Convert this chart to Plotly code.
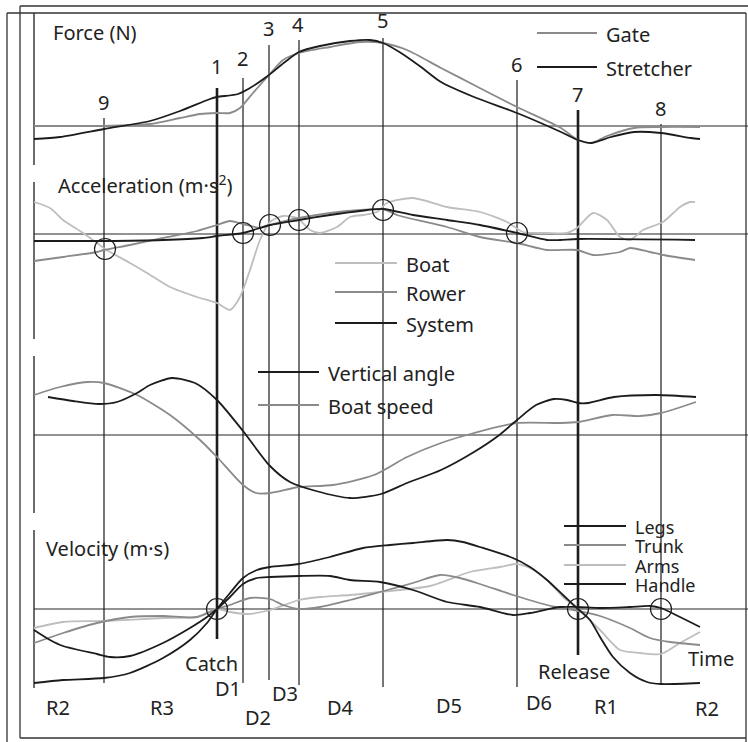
import plotly.graph_objects as go

# ---------------- data (stroke phase on x, signal level on y; screen-like units) -------------
# Force panel
gate_x = [34, 104, 150, 180, 200, 217, 230, 240, 253, 269, 283, 299, 330, 360, 383, 407, 441, 474, 517, 561, 578, 591, 607, 634, 661, 700]
gate_y = [126, 126, 124, 118, 114, 113, 113, 108, 93, 75, 60, 53, 47, 42, 43, 50, 68, 85, 107, 128, 140, 143, 136, 128, 127, 127]
stretch_x = [34, 60, 104, 150, 180, 210, 217, 238, 250, 269, 285, 299, 320, 350, 370, 383, 401, 421, 441, 474, 517, 561, 578, 591, 611, 634, 661, 691, 700]
stretch_y = [139, 137, 129, 121, 111, 99, 97, 94, 88, 75, 62, 52, 46, 41, 40, 43, 53, 67, 82, 97, 113, 132, 140, 143, 137, 132, 133, 138, 139]

# Acceleration panel
boat_x = [34, 50, 63, 83, 97, 105, 130, 147, 170, 197, 217, 230, 240, 250, 260, 270, 283, 297, 310, 320, 337, 350, 363, 377, 387, 413, 447, 480, 507, 523, 547, 567, 577, 593, 607, 620, 630, 643, 663, 680, 690, 695]
boat_y = [202, 208, 220, 233, 243, 249, 263, 273, 287, 297, 303, 310, 297, 270, 240, 222, 216, 218, 230, 233, 227, 217, 215, 212, 203, 198, 207, 212, 222, 232, 233, 233, 228, 213, 220, 237, 240, 230, 222, 207, 202, 202]
rower_x = [34, 63, 97, 104, 130, 163, 197, 217, 230, 243, 260, 270, 299, 330, 360, 383, 397, 447, 480, 517, 547, 577, 593, 620, 630, 650, 663, 695]
rower_y = [261, 257, 252, 250, 245, 238, 231, 225, 221, 224, 228, 225, 218, 213, 210, 209, 215, 227, 237, 243, 250, 250, 255, 252, 248, 252, 255, 260]
system_x = [34, 104, 163, 203, 217, 243, 270, 299, 330, 360, 383, 413, 447, 480, 517, 547, 560, 578, 695]
system_y = [241, 241, 240, 238, 236, 233, 225, 220, 215, 211, 209, 215, 220, 225, 233, 240, 240, 239, 240]

# Vertical angle / boat speed panel
vang_x = [48, 73, 99, 117, 137, 150, 172, 195, 217, 243, 270, 290, 316, 350, 381, 407, 441, 474, 498, 517, 536, 554, 567, 578, 588, 614, 657, 696]
vang_y = [397, 401, 404, 402, 393, 385, 378, 383, 400, 431, 466, 482, 491, 498, 494, 483, 470, 452, 436, 420, 405, 399, 400, 403, 403, 397, 395, 397]
bspeed_x = [34, 60, 87, 104, 137, 170, 200, 217, 243, 256, 270, 299, 333, 374, 407, 441, 474, 517, 561, 578, 612, 640, 661, 696]
bspeed_y = [395, 387, 382, 383, 395, 415, 440, 457, 485, 493, 493, 487, 485, 475, 457, 443, 433, 423, 423, 422, 415, 416, 413, 402]

# Velocity panel
legs_x = [34, 50, 63, 97, 110, 130, 163, 190, 207, 217, 230, 243, 257, 270, 299, 330, 350, 380, 413, 447, 480, 513, 530, 560, 578, 600, 630, 650, 661, 680, 700]
legs_y = [630, 640, 646, 654, 657, 656, 643, 628, 617, 609, 597, 584, 578, 577, 576, 576, 580, 582, 590, 602, 607, 615, 613, 607, 607, 608, 607, 606, 608, 617, 627]
trunk_x = [34, 63, 97, 130, 163, 197, 217, 230, 250, 270, 283, 299, 320, 350, 380, 413, 440, 460, 480, 513, 547, 578, 600, 630, 650, 670, 700]
trunk_y = [643, 633, 623, 617, 616, 617, 609, 605, 598, 599, 605, 609, 607, 600, 592, 583, 575, 578, 584, 595, 605, 611, 616, 628, 638, 642, 645]
arms_x = [34, 63, 104, 163, 197, 217, 230, 247, 270, 299, 320, 350, 380, 430, 470, 500, 517, 530, 547, 563, 578, 600, 620, 640, 661, 680, 700]
arms_y = [628, 622, 621, 618, 617, 609, 612, 614, 610, 600, 597, 595, 592, 586, 572, 567, 564, 568, 580, 597, 609, 630, 650, 653, 654, 643, 632]
handle_x = [34, 63, 104, 130, 163, 190, 207, 217, 230, 243, 257, 270, 299, 330, 363, 390, 413, 447, 463, 480, 513, 530, 547, 563, 578, 590, 600, 613, 630, 647, 661, 700]
handle_y = [683, 680, 678, 673, 658, 640, 623, 609, 593, 578, 570, 567, 564, 557, 548, 545, 543, 540, 542, 547, 558, 567, 580, 595, 609, 620, 637, 657, 673, 682, 684, 683]

# Event markers (phase lines) 1..9
event_labels = ["9", "1", "2", "3", "4", "5", "6", "7", "8"]
event_x = [104, 217, 243, 269, 299, 383, 517, 578, 661]
event_top = [118, 88, 78, 45, 40, 38, 80, 110, 124]
event_bottom = [683, 639, 683, 680, 685, 687, 687, 655, 683]
event_label_y = [102, 66, 58, 28, 24, 20, 64, 94, 108]

# Zero-crossing circles
circle_x = [105, 243, 270, 299, 383, 517, 217, 578, 661]
circle_y = [249, 233, 225, 220, 210, 233, 609, 609, 609]

# Panel zero lines
baseline_y = [126, 234, 435, 609]

# Phase labels
phase_labels = ["R2", "R3", "D1", "D2", "D3", "D4", "D5", "D6", "R1", "R2"]
phase_x = [58, 162, 228, 258, 285, 340, 449, 539, 606, 707]
phase_y = [707, 707, 688, 717, 693, 707, 705, 702, 706, 708]

BLACK = "#1c1c1c"
MID = "#8a8a8a"
LIGHT = "#bebebe"
FONT = "Noto Sans"

fig = go.Figure()

def curve(x, y, color, width=1.8):
    fig.add_trace(go.Scatter(x=x, y=y, mode="lines", hoverinfo="skip",
                             line=dict(color=color, width=width, shape="spline", smoothing=0.7)))

# baselines
for b in baseline_y:
    fig.add_trace(go.Scatter(x=[34, 748], y=[b, b], mode="lines", hoverinfo="skip",
                             line=dict(color="#6e6e6e", width=1.5)))

# left broken axis
for y0, y1 in [(13, 165), (182, 339), (356, 513), (530, 688)]:
    fig.add_trace(go.Scatter(x=[34, 34], y=[y0, y1], mode="lines", hoverinfo="skip",
                             line=dict(color=BLACK, width=1.3)))

# event lines
for lab, x, t, b in zip(event_labels, event_x, event_top, event_bottom):
    w = 2.6 if lab in ("1", "7") else 1.2
    fig.add_trace(go.Scatter(x=[x, x], y=[t, b], mode="lines", hoverinfo="skip",
                             line=dict(color=BLACK, width=w)))

curve(gate_x, gate_y, MID)
curve(stretch_x, stretch_y, BLACK)
curve(boat_x, boat_y, LIGHT)
curve(rower_x, rower_y, MID)
curve(system_x, system_y, BLACK)
curve(bspeed_x, bspeed_y, MID)
curve(vang_x, vang_y, BLACK)
curve(arms_x, arms_y, LIGHT)
curve(trunk_x, trunk_y, MID)
curve(legs_x, legs_y, BLACK)
curve(handle_x, handle_y, BLACK)

fig.add_trace(go.Scatter(x=circle_x, y=circle_y, mode="markers", hoverinfo="skip",
                         marker=dict(symbol="circle-open", size=21, color=BLACK,
                                     line=dict(width=1.2, color=BLACK))))

# legend keys
legends = [
    ("Gate", 537, 597, 33, MID, 20), ("Stretcher", 537, 597, 67, BLACK, 20),
    ("Boat", 335, 397, 263, LIGHT, 20), ("Rower", 335, 397, 292, MID, 20), ("System", 335, 397, 323, BLACK, 20),
    ("Vertical angle", 258, 319, 372, BLACK, 20), ("Boat speed", 258, 319, 405, MID, 20),
    ("Legs", 564, 626, 526, BLACK, 18), ("Trunk", 564, 626, 545, MID, 18),
    ("Arms", 564, 626, 565, LIGHT, 18), ("Handle", 564, 626, 584, BLACK, 18),
]
annotations = []
for name, x0, x1, y, col, fs in legends:
    fig.add_trace(go.Scatter(x=[x0, x1], y=[y, y], mode="lines", hoverinfo="skip",
                             line=dict(color=col, width=1.8)))
    annotations.append(dict(x=x1 + 7, y=y + 1, text=name, xanchor="left", yanchor="middle",
                            font=dict(family=FONT, size=fs, color="#222")))

for lab, x, y in zip(event_labels, event_x, event_label_y):
    annotations.append(dict(x=x - 1, y=y, text=lab, xanchor="center", yanchor="middle"))
for lab, x, y in zip(phase_labels, phase_x, phase_y):
    annotations.append(dict(x=x, y=y, text=lab, xanchor="center", yanchor="middle"))

annotations += [
    dict(x=51, y=32, text="Force (N)", xanchor="left", yanchor="middle"),
    dict(x=56, y=184, text="Acceleration (m·s<sup>2</sup>)", xanchor="left", yanchor="middle"),
    dict(x=44, y=548, text="Velocity (m·s)", xanchor="left", yanchor="middle"),
    dict(x=211, y=663, text="Catch", xanchor="center", yanchor="middle"),
    dict(x=574, y=671, text="Release", xanchor="center", yanchor="middle"),
    dict(x=711, y=658, text="Time", xanchor="center", yanchor="middle"),
]
for a in annotations:
    a.update(xref="x", yref="y", showarrow=False)
    a.setdefault("font", dict(family=FONT, size=20, color="#222"))

# frame
shapes = []
frame = [(20, 6, 748, 6), (20, 6, 20, 738), (20, 738, 746, 738),
         (7, 13, 746, 13), (7, 13, 7, 742), (746, 13, 746, 742)]
for x0, y0, x1, y1 in frame:
    shapes.append(dict(type="line", xref="x", yref="y", x0=x0, y0=y0, x1=x1, y1=y1,
                       line=dict(color="#333", width=1.3)))

fig.update_layout(
    width=748, height=742, margin=dict(l=0, r=0, t=0, b=0),
    paper_bgcolor="white", plot_bgcolor="white", showlegend=False,
    xaxis=dict(range=[0, 748], visible=False, fixedrange=True),
    yaxis=dict(range=[742, 0], visible=False, fixedrange=True),
    annotations=annotations, shapes=shapes,
)
fig.write_html("out.html", config={"displayModeBar": False, "staticPlot": True},
               post_script="document.body.style.margin='0';document.body.style.overflow='hidden';")
